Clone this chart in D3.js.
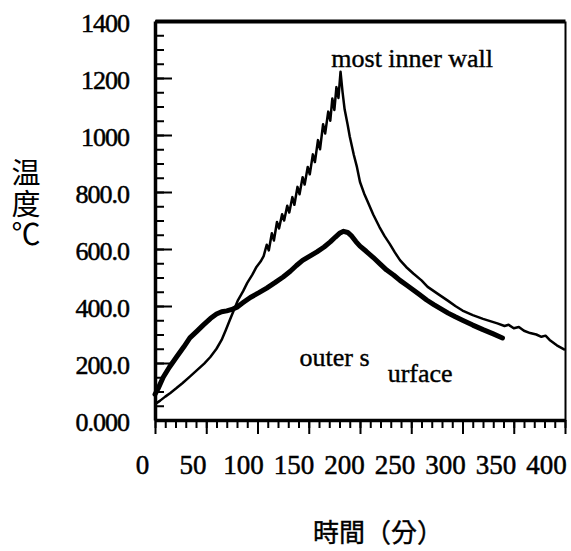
<!DOCTYPE html>
<html>
<head>
<meta charset="utf-8">
<script src="https://cdn.jsdelivr.net/npm/d3@7"></script>
<style>
  body { margin: 0; background: #fff; overflow: hidden; }
  svg { display: block; }
  .note { font-family: "Liberation Serif", "Times New Roman", serif; font-size: 26px; fill: #000; stroke: #000; stroke-width: 0.4px; }
  .cjk { font-family: "Noto Sans CJK TC", "Noto Sans CJK JP", sans-serif; fill: #000; }
</style>
</head>
<body>
<div id="grafico"></div>
<script>
// tiempo (min) / temperatura (°C)
var xTicks = [0, 50, 100, 150, 200, 250, 300, 350, 400];
var yTicks = [0, 200, 400, 600, 800, 1000, 1200, 1400];
var yLabels = ["0.000", "200.0", "400.0", "600.0", "800.0", "1000", "1200", "1400"];

var innerWall = [
  [0,55],[5,68],[10,82],[15,95],[21,112],[27,130],[34,152],[41,175],[48,198],[54,221],[60,250],[65,281],
  [69,315],[73,351],[77,386],[81,421],[86,452],[90,481],[95,510],[99,537],[103,556],[106,575],
  [109,615],[111,595],[114,655],[116,630],[119,695],[121,672],[124,722],[126,700],[129,752],[131,728],
  [134,782],[136,755],[139,818],[141,792],[144,852],[146,826],[149,888],[151,862],[154,932],[156,905],
  [159,982],[161,950],[164,1038],[166,1005],[169,1082],[171,1050],[173,1128],[175,1088],[177,1168],
  [179,1130],[181,1222],
  [183,1150],[185,1090],[188,1035],[190,995],[194,930],[197,888],[200,835],[204,795],[207,770],[213,720],
  [219,677],[224,645],[229,618],[234,588],[239,561],[245,537],[252,514],[260,490],[266,467],[277,440],
  [286,418],[293,400],[300,384],[310,368],[320,355],[327,347],[334,339],[341,330],[345,334],[350,322],
  [355,326],[360,313],[366,305],[372,300],[377,292],[381,296],[385,281],[392,262],[400,246]
];

var outerSurface = [
  [0,90],[3,110],[8,150],[14,185],[21,221],[28,256],[34,288],[41,312],[47,333],[54,356],[60,372],
  [65,380],[70,383],[75,388],[80,396],[86,412],[93,430],[101,446],[109,463],[117,482],[125,502],
  [132,522],[138,542],[144,560],[151,575],[158,590],[165,607],[171,625],[176,642],[180,655],[184,662],
  [188,658],[192,645],[196,626],[200,610],[206,592],[213,570],[220,546],[226,526],[233,508],[239,490],
  [246,472],[252,456],[258,440],[265,421],[272,405],[279,390],[286,375],[293,362],[300,350],[310,333],
  [320,317],[330,302],[339,288]
];

var serif = '"Liberation Serif", "Times New Roman", serif';
var larguraSVG = 571, alturaSVG = 551;

var svg = d3.select("#grafico").append("svg")
    .attr("width", larguraSVG)
    .attr("height", alturaSVG);

var x = d3.scaleLinear().domain([0, 400]).range([155, 565]);
var y = d3.scaleLinear().domain([0, 1400]).range([420, 21]);
// las etiquetas del eje x están corridas a la izquierda en el original
var xLab = d3.scaleLinear().domain([0, 400]).range([142, 546]);

// marco: eje superior y eje derecho sin marcas
var topo = svg.append("g")
   .attr("transform", "translate(0," + y(1400) + ")")
   .call(d3.axisTop(x).tickValues([]).tickSizeOuter(0));
topo.select(".domain").attr("stroke", "#000").attr("stroke-width", 4);

var direita = svg.append("g")
   .attr("transform", "translate(" + x(400) + ",0)")
   .call(d3.axisRight(y).tickValues([]).tickSizeOuter(0));
direita.select(".domain").attr("stroke", "#000").attr("stroke-width", 2);

// eje y: menores cada 50, mayores cada 200
svg.append("g")
   .attr("transform", "translate(" + x(0) + ",0)")
   .call(d3.axisLeft(y).tickValues(d3.range(0, 1401, 50)).tickSize(-9).tickFormat(""))
   .call(g => g.select(".domain").remove())
   .call(g => g.selectAll("line").attr("stroke-width", 2));

var ejeY = svg.append("g")
   .attr("transform", "translate(" + x(0) + ",0)")
   .call(d3.axisLeft(y).tickValues(yTicks).tickSize(-17).tickSizeOuter(0).tickPadding(26)
         .tickFormat((d, i) => yLabels[i]));
ejeY.select(".domain").attr("stroke-width", 3.5);
ejeY.selectAll("line").attr("stroke-width", 2);
ejeY.selectAll("text")
   .style("font-family", serif).style("font-size", "26px").style("letter-spacing", "-1px")
   .style("fill", "#000").style("stroke", "#000").style("stroke-width", "0.5px")
   .attr("dy", "0.42em");

// eje x
svg.append("g")
   .attr("transform", "translate(0," + y(0) + ")")
   .call(d3.axisBottom(x).tickValues(d3.range(0, 401, 10)).tickSize(8).tickFormat(""))
   .call(g => g.select(".domain").remove())
   .call(g => g.selectAll("line").attr("stroke-width", 2));

var ejeX = svg.append("g")
   .attr("transform", "translate(0," + y(0) + ")")
   .call(d3.axisBottom(x).tickValues(xTicks).tickSize(14).tickSizeOuter(0).tickPadding(21));
ejeX.select(".domain").attr("stroke-width", 3.5);
ejeX.selectAll("line").attr("stroke-width", 2);
ejeX.selectAll("text")
   .style("font-family", serif).style("font-size", "27px")
   .style("fill", "#000").style("stroke", "#000").style("stroke-width", "0.5px")
   .attr("x", d => xLab(d) - x(d));

var linha = d3.line().x(d => x(d[0])).y(d => y(d[1]));

svg.append("path").datum(outerSurface)
   .attr("d", linha).attr("fill", "none").attr("stroke", "#000")
   .attr("stroke-width", 5).attr("stroke-linejoin", "round").attr("stroke-linecap", "round");

svg.append("path").datum(innerWall)
   .attr("d", linha).attr("fill", "none").attr("stroke", "#000")
   .attr("stroke-width", 2.5).attr("stroke-linejoin", "round");

// anotaciones
svg.append("text").attr("class", "note").attr("x", x(172)).attr("y", y(1240)).text("most inner wall");
svg.append("text").attr("class", "note").attr("x", x(141)).attr("y", y(190)).text("outer s");
svg.append("text").attr("class", "note").attr("x", x(227)).attr("y", y(132)).text("urface");

// títulos
svg.append("text").attr("class", "cjk").attr("x", 378).attr("y", 542)
   .attr("text-anchor", "middle").style("font-size", "26px").style("stroke", "#000")
   .style("stroke-width", "0.4px").text("時間（分）");

svg.append("text").attr("class", "cjk")
   .attr("x", 26).attr("y", 158)
   .style("writing-mode", "vertical-rl").style("text-orientation", "upright")
   .style("font-size", "29px").style("letter-spacing", "2px")
   .text("温度℃");
</script>
</body>
</html>
